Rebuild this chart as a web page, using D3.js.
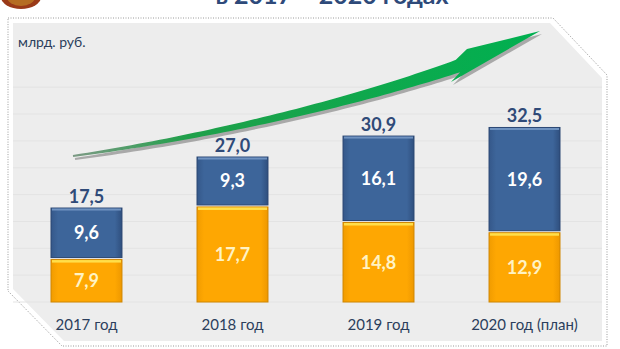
<!DOCTYPE html>
<html><head><meta charset="utf-8">
<script src="https://cdn.jsdelivr.net/npm/d3@7"></script>
<style>html,body{margin:0;padding:0;background:#fff;}svg{display:block;}</style>
</head><body>
<script>
const categories = ["2017 год","2018 год","2019 год","2020 год (план)"];
const orangeValues = [7.9,17.7,14.8,12.9];
const blueValues = [9.6,9.3,16.1,19.6];
const totals = [17.5,27.0,30.9,32.5];
const gridTicks = [0,5,10,15,20,25,30,35,40];
const unitLabel = "млрд. руб.";
const titleText = "в 2017 – 2020 годах";

(function(){
const W=620,H=349;
const svg=d3.select("body").append("svg").attr("width",W).attr("height",H);
const defs=svg.append("defs");
const font="Lato, 'Open Sans', sans-serif";

// logo
svg.append("ellipse").attr("cx",21).attr("cy",-3).attr("rx",20).attr("ry",12).attr("fill","#9a3a18");
svg.append("ellipse").attr("cx",21).attr("cy",-3).attr("rx",14).attr("ry",9).attr("fill","#c8902a").attr("opacity",0.6);

// title (cropped at top as in the reference)
svg.append("text").attr("x",332).attr("y",4).attr("text-anchor","middle")
  .attr("font-family",font).attr("font-weight","bold").attr("font-size",25)
  .attr("fill","#2e4a7a").text(titleText);

// panel
svg.append("path").attr("d","M13,23 H550 L602,78 V341 H64 L13,289 Z").attr("fill","#ededed");
svg.append("path").attr("d","M8,18 H553 L607,75 V346 H62 L8,291 Z").attr("fill","none")
  .attr("stroke","#9a9a9a").attr("stroke-width",1).attr("stroke-dasharray","1,1.5");

const x=d3.scaleBand().domain(categories).range([14.5,596.5]).paddingInner(0.514).paddingOuter(0.25);
const y=d3.scaleLinear().domain([0,40]).range([302,87.2]);

// gridlines
svg.append("g").selectAll("line").data(gridTicks).join("line")
  .attr("x1",13).attr("x2",602).attr("y1",d=>y(d)).attr("y2",d=>y(d))
  .attr("stroke","#e3e3e3").attr("stroke-width",1);

svg.append("text").attr("x",18).attr("y",47).attr("font-family",font).attr("font-size",14)
  .attr("fill","#2b3e5c").text(unitLabel);

// arrow
const gA=defs.append("linearGradient").attr("id","ga").attr("gradientUnits","userSpaceOnUse")
  .attr("x1",70).attr("y1",0).attr("x2",540).attr("y2",0);
gA.append("stop").attr("offset",0).attr("stop-color","#7f9a86");
gA.append("stop").attr("offset",0.25).attr("stop-color","#1fa04a");
gA.append("stop").attr("offset",1).attr("stop-color","#00b050");
const P=[[73,156],[220,135],[360,100],[458,66]];
function bez(t){const m=1-t;const a=m*m*m,b=3*m*m*t,c=3*m*t*t,d=t*t*t;
  return [a*P[0][0]+b*P[1][0]+c*P[2][0]+d*P[3][0], a*P[0][1]+b*P[1][1]+c*P[2][1]+d*P[3][1]];}
function dbez(t){const m=1-t;
  return [3*m*m*(P[1][0]-P[0][0])+6*m*t*(P[2][0]-P[1][0])+3*t*t*(P[3][0]-P[2][0]),
          3*m*m*(P[1][1]-P[0][1])+6*m*t*(P[2][1]-P[1][1])+3*t*t*(P[3][1]-P[2][1])];}
const upper=[],lower=[];
for(let i=0;i<=60;i++){const t=i/60;const p=bez(t),d=dbez(t);const L=Math.hypot(d[0],d[1]);
  const n=[-d[1]/L,d[0]/L];const hw=1+5.5*t;
  upper.push([p[0]-n[0]*hw,p[1]-n[1]*hw]);lower.push([p[0]+n[0]*hw,p[1]+n[1]*hw]);}
const head=[[467,49],[540,31],[451,82]];
const poly=upper.concat(head).concat(lower.reverse());
const line=d3.line().curve(d3.curveLinearClosed);
svg.append("path").attr("d",line(poly)).attr("fill","#8c8c8c").attr("opacity",0.7).attr("transform","translate(2,3)");
svg.append("path").attr("d",line(poly)).attr("fill","url(#ga)");

// bar gradients
const gb=defs.append("linearGradient").attr("id","gb").attr("x1",0).attr("x2",1).attr("y1",0).attr("y2",0);
gb.append("stop").attr("offset",0).attr("stop-color","#35588a");
gb.append("stop").attr("offset",0.1).attr("stop-color","#3d659a");
gb.append("stop").attr("offset",0.9).attr("stop-color","#3d659a");
gb.append("stop").attr("offset",1).attr("stop-color","#2f4f7e");
const go=defs.append("linearGradient").attr("id","go").attr("x1",0).attr("x2",1).attr("y1",0).attr("y2",0);
go.append("stop").attr("offset",0).attr("stop-color","#f19c00");
go.append("stop").attr("offset",0.1).attr("stop-color","#fea702");
go.append("stop").attr("offset",0.9).attr("stop-color","#fea702");
go.append("stop").attr("offset",1).attr("stop-color","#ee9800");

const bars=svg.append("g");
const idx=d3.range(categories.length);
bars.selectAll(".o").data(idx).join("rect").attr("class","o")
  .attr("x",i=>x(categories[i])).attr("width",x.bandwidth())
  .attr("y",i=>y(orangeValues[i])).attr("height",i=>y(0)-y(orangeValues[i]))
  .attr("fill","url(#go)").attr("stroke","#d08600").attr("stroke-width",1);
bars.selectAll(".oh").data(idx).join("rect").attr("class","oh")
  .attr("x",i=>x(categories[i])+1).attr("width",x.bandwidth()-2)
  .attr("y",i=>y(orangeValues[i])+0.5).attr("height",2.5).attr("fill","#ffdf4a");
bars.selectAll(".b").data(idx).join("rect").attr("class","b")
  .attr("x",i=>x(categories[i])).attr("width",x.bandwidth())
  .attr("y",i=>y(orangeValues[i]+blueValues[i])).attr("height",i=>y(orangeValues[i])-y(orangeValues[i]+blueValues[i])-2)
  .attr("fill","url(#gb)").attr("stroke","#2a4672").attr("stroke-width",1);
bars.selectAll(".bh").data(idx).join("rect").attr("class","bh")
  .attr("x",i=>x(categories[i])+1).attr("width",x.bandwidth()-2)
  .attr("y",i=>y(orangeValues[i]+blueValues[i])+0.5).attr("height",2).attr("fill","#6f92c0");

const fmt=v=>v.toFixed(1).replace(".",",");
const cx=i=>x(categories[i])+x.bandwidth()/2;
svg.append("g").selectAll("text").data(idx).join("text")
  .attr("x",cx).attr("y",i=>(y(orangeValues[i])+y(0))/2+6.5).attr("text-anchor","middle")
  .attr("font-family",font).attr("font-weight","bold").attr("font-size",18).attr("fill","#fff3c4")
  .text(i=>fmt(orangeValues[i]));
svg.append("g").selectAll("text").data(idx).join("text")
  .attr("x",cx).attr("y",i=>(y(orangeValues[i])+y(orangeValues[i]+blueValues[i]))/2+5.5).attr("text-anchor","middle")
  .attr("font-family",font).attr("font-weight","bold").attr("font-size",18).attr("fill","#ffffff")
  .text(i=>fmt(blueValues[i]));
svg.append("g").selectAll("text").data(idx).join("text")
  .attr("x",cx).attr("y",i=>y(totals[i])-5).attr("text-anchor","middle")
  .attr("font-family",font).attr("font-weight","bold").attr("font-size",18).attr("fill","#2f4a78")
  .text(i=>fmt(totals[i]));

const ax=svg.append("g").attr("transform","translate(0,302)").call(d3.axisBottom(x).tickSize(0).tickPadding(17));
ax.select(".domain").remove();
ax.selectAll("text").attr("font-family",font).attr("font-size",15).attr("fill","#2b3e5c");
})();
</script>
</body></html>
